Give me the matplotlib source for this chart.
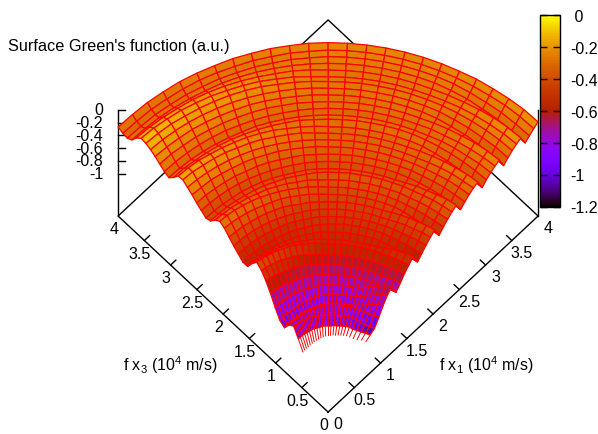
import numpy as np
import matplotlib
matplotlib.use('Agg')
import matplotlib.pyplot as plt
from matplotlib.cm import ScalarMappable
from matplotlib.colors import LinearSegmentedColormap, Normalize
from mpl_toolkits.mplot3d import proj3d

plt.rcParams['font.family'] = ['Liberation Sans', 'DejaVu Sans']
plt.rcParams['mathtext.fontset'] = 'custom'
plt.rcParams['mathtext.rm'] = 'Liberation Sans'
plt.rcParams['mathtext.default'] = 'regular'
plt.rcParams['axes.unicode_minus'] = False

# spokes from the x1 axis (0 deg) to the x3 axis (90 deg)
spoke_deg = [0, 3.75, 7.5, 11.25, 15, 18.75, 22.5, 26.25, 30, 33.75, 37.5, 41.25, 45,
             48.75, 52.5, 56.25, 60, 63.75, 67.5, 71.25, 75, 78.75, 82.5, 86.25, 90]
r_inner = [.72, .68, .64, .61, .58, .56, .54, .53, .52, .51, .51, .50, .50,
           .50, .50, .49, .49, .49, .49, .48, .48, .48, .48, .48, .48]
r_outer = 4.0

# green function: one row per arc (inner to outer), one column per spoke
green = [
 [-1.11,-1.09,-1.08,-1.06,-1.03,-1.01,-1.00,-1.00,-1.00,-1.00,-1.00,-1.00,-1.00,-1.01,-1.02,-1.02,-1.03,-1.04,-1.05,-1.05,-1.06,-1.07,-1.07,-1.08,-1.09],
 [-1.07,-1.05,-1.03,-1.01,-.99,-.96,-.95,-.95,-.95,-.95,-.95,-.95,-.95,-.95,-.95,-.95,-.95,-.95,-.95,-.95,-.95,-.95,-.95,-.95,-.95],
 [-1.03,-1.01,-.99,-.96,-.93,-.90,-.88,-.88,-.88,-.88,-.88,-.88,-.88,-.88,-.87,-.87,-.86,-.85,-.85,-.85,-.84,-.84,-.83,-.83,-.82],
 [-.92,-.91,-.89,-.87,-.85,-.83,-.82,-.82,-.82,-.82,-.82,-.82,-.82,-.82,-.83,-.83,-.84,-.84,-.85,-.85,-.85,-.86,-.86,-.87,-.87],
 [-.80,-.81,-.82,-.84,-.86,-.87,-.88,-.88,-.88,-.88,-.88,-.88,-.88,-.89,-.90,-.90,-.91,-.92,-.93,-.94,-.95,-.95,-.96,-.97,-.98],
 [-.70,-.72,-.74,-.77,-.79,-.81,-.83,-.83,-.83,-.83,-.83,-.83,-.83,-.84,-.85,-.86,-.86,-.87,-.88,-.89,-.90,-.91,-.91,-.92,-.93],
 [-.62,-.64,-.67,-.70,-.73,-.76,-.78,-.78,-.78,-.78,-.78,-.78,-.78,-.78,-.78,-.79,-.79,-.79,-.79,-.79,-.79,-.80,-.80,-.80,-.80],
 [-.78,-.77,-.76,-.75,-.74,-.73,-.72,-.72,-.72,-.72,-.72,-.72,-.72,-.71,-.71,-.70,-.70,-.69,-.69,-.68,-.67,-.67,-.66,-.66,-.65],
 [-.70,-.69,-.69,-.68,-.67,-.66,-.66,-.66,-.66,-.66,-.66,-.66,-.66,-.65,-.64,-.63,-.61,-.60,-.59,-.58,-.57,-.56,-.54,-.53,-.52],
 [-.61,-.61,-.61,-.61,-.60,-.60,-.60,-.60,-.60,-.60,-.60,-.60,-.60,-.59,-.57,-.56,-.54,-.53,-.51,-.50,-.48,-.47,-.45,-.44,-.42],
 [-.54,-.54,-.53,-.53,-.53,-.52,-.52,-.52,-.52,-.52,-.52,-.52,-.52,-.51,-.49,-.48,-.47,-.45,-.44,-.43,-.41,-.40,-.39,-.37,-.36],
 [-.47,-.48,-.49,-.51,-.53,-.54,-.55,-.55,-.55,-.55,-.55,-.55,-.55,-.54,-.53,-.53,-.52,-.51,-.50,-.49,-.48,-.48,-.47,-.46,-.45],
 [-.62,-.61,-.59,-.57,-.55,-.53,-.52,-.52,-.52,-.52,-.52,-.52,-.52,-.52,-.53,-.53,-.53,-.54,-.54,-.54,-.55,-.55,-.55,-.56,-.56],
 [-.55,-.54,-.53,-.52,-.51,-.50,-.49,-.49,-.49,-.49,-.49,-.49,-.49,-.50,-.50,-.51,-.51,-.52,-.53,-.53,-.54,-.54,-.55,-.55,-.56],
 [-.48,-.48,-.48,-.48,-.47,-.47,-.47,-.47,-.47,-.47,-.47,-.47,-.47,-.47,-.48,-.48,-.48,-.48,-.49,-.49,-.49,-.49,-.49,-.50,-.50],
 [-.42,-.42,-.43,-.43,-.44,-.45,-.45,-.45,-.45,-.45,-.45,-.45,-.45,-.45,-.45,-.45,-.45,-.45,-.45,-.44,-.44,-.44,-.44,-.44,-.44],
 [-.37,-.38,-.39,-.40,-.41,-.42,-.43,-.43,-.43,-.43,-.43,-.43,-.43,-.43,-.42,-.42,-.41,-.40,-.40,-.39,-.39,-.39,-.38,-.38,-.37],
 [-.52,-.50,-.49,-.47,-.44,-.42,-.41,-.41,-.41,-.41,-.41,-.41,-.41,-.40,-.39,-.38,-.37,-.36,-.36,-.35,-.34,-.33,-.32,-.31,-.30],
 [-.45,-.44,-.43,-.42,-.41,-.40,-.39,-.39,-.39,-.39,-.39,-.39,-.39,-.38,-.37,-.36,-.35,-.34,-.33,-.31,-.30,-.29,-.28,-.27,-.26],
 [-.39,-.39,-.38,-.38,-.38,-.37,-.37,-.37,-.37,-.37,-.37,-.37,-.37,-.37,-.36,-.36,-.35,-.35,-.34,-.34,-.33,-.33,-.32,-.32,-.31],
 [-.34,-.34,-.34,-.35,-.35,-.35,-.35,-.35,-.35,-.35,-.35,-.35,-.35,-.35,-.36,-.36,-.36,-.37,-.37,-.37,-.38,-.38,-.38,-.39,-.39],
 [-.30,-.31,-.33,-.35,-.36,-.38,-.39,-.39,-.39,-.39,-.39,-.39,-.39,-.39,-.39,-.40,-.40,-.40,-.40,-.40,-.40,-.41,-.41,-.41,-.41],
 [-.43,-.42,-.41,-.40,-.39,-.38,-.37,-.37,-.37,-.37,-.37,-.37,-.37,-.37,-.37,-.37,-.37,-.37,-.37,-.36,-.36,-.36,-.36,-.36,-.36],
 [-.37,-.37,-.36,-.36,-.36,-.35,-.35,-.35,-.35,-.35,-.35,-.35,-.35,-.35,-.34,-.34,-.34,-.33,-.33,-.33,-.32,-.32,-.32,-.31,-.31],
 [-.32,-.32,-.32,-.33,-.33,-.33,-.33,-.33,-.33,-.33,-.33,-.33,-.33,-.32,-.32,-.31,-.30,-.30,-.29,-.28,-.28,-.27,-.26,-.26,-.25],
 [-.28,-.29,-.29,-.30,-.31,-.32,-.32,-.32,-.32,-.32,-.32,-.32,-.32,-.31,-.30,-.29,-.28,-.27,-.26,-.25,-.24,-.23,-.22,-.21,-.20],
 [-.25,-.26,-.27,-.28,-.29,-.30,-.31,-.31,-.31,-.31,-.31,-.31,-.31,-.30,-.28,-.27,-.26,-.24,-.23,-.22,-.20,-.19,-.18,-.16,-.15],
 [-.40,-.39,-.37,-.35,-.33,-.31,-.30,-.30,-.30,-.30,-.30,-.30,-.30,-.29,-.28,-.27,-.25,-.24,-.23,-.22,-.21,-.20,-.18,-.17,-.16],
 [-.34,-.33,-.32,-.31,-.30,-.29,-.28,-.28,-.28,-.28,-.28,-.28,-.28,-.28,-.27,-.27,-.27,-.27,-.27,-.26,-.26,-.26,-.26,-.25,-.25],
 [-.29,-.29,-.30,-.30,-.30,-.31,-.31,-.31,-.31,-.31,-.31,-.31,-.31,-.31,-.31,-.31,-.31,-.31,-.32,-.32,-.32,-.32,-.32,-.32,-.32],
 [-.25,-.26,-.27,-.28,-.29,-.29,-.30,-.30,-.30,-.30,-.30,-.30,-.30,-.30,-.30,-.30,-.30,-.30,-.30,-.29,-.29,-.29,-.29,-.29,-.29],
 [-.22,-.23,-.24,-.26,-.27,-.28,-.29,-.29,-.29,-.29,-.29,-.29,-.29,-.29,-.28,-.28,-.27,-.27,-.27,-.26,-.26,-.25,-.25,-.24,-.24],
 [-.37,-.36,-.34,-.32,-.31,-.29,-.28,-.28,-.28,-.28,-.28,-.28,-.28,-.27,-.27,-.26,-.25,-.24,-.24,-.23,-.22,-.21,-.21,-.20,-.19],
 [-.31,-.30,-.30,-.29,-.28,-.27,-.27,-.27,-.27,-.27,-.27,-.27,-.27,-.26,-.25,-.24,-.23,-.22,-.21,-.20,-.19,-.18,-.17,-.16,-.15],
 [-.26,-.26,-.26,-.26,-.26,-.26,-.26,-.26,-.26,-.26,-.26,-.26,-.26,-.25,-.24,-.23,-.21,-.20,-.19,-.18,-.17,-.16,-.14,-.13,-.12],
 [-.22,-.23,-.24,-.25,-.26,-.27,-.28,-.28,-.28,-.28,-.28,-.28,-.28,-.27,-.25,-.24,-.22,-.21,-.20,-.18,-.17,-.15,-.14,-.12,-.11],
 [-.19,-.20,-.21,-.23,-.25,-.26,-.27,-.27,-.27,-.27,-.27,-.27,-.27,-.26,-.25,-.25,-.24,-.23,-.22,-.21,-.20,-.20,-.19,-.18,-.17],
 [-.33,-.32,-.31,-.30,-.28,-.27,-.26,-.26,-.26,-.26,-.26,-.26,-.26,-.26,-.26,-.26,-.26,-.26,-.26,-.27,-.27,-.27,-.27,-.27,-.27],
 [-.28,-.28,-.27,-.27,-.26,-.25,-.25,-.25,-.25,-.25,-.25,-.25,-.25,-.26,-.26,-.27,-.27,-.28,-.28,-.29,-.29,-.30,-.30,-.31,-.31],
 [-.23,-.23,-.23,-.24,-.24,-.24,-.24,-.24,-.24,-.24,-.24,-.24,-.24,-.25,-.25,-.26,-.26,-.27,-.27,-.27,-.28,-.29,-.29,-.30,-.30],
 [-.19,-.19,-.20,-.21,-.21,-.22,-.22,-.22,-.22,-.22,-.22,-.22,-.22,-.22,-.23,-.23,-.24,-.24,-.25,-.25,-.25,-.26,-.26,-.27,-.27],
]

xy_ticks = [0, 0.5, 1, 1.5, 2, 2.5, 3, 3.5, 4]
xy_labels = ['0', '0.5', '1', '1.5', '2', '2.5', '3', '3.5', '4']
z_ticks = [0, -0.2, -0.4, -0.6, -0.8, -1]
z_labels = ['0', '-0.2', '-0.4', '-0.6', '-0.8', '-1']
cb_ticks = [0, -0.2, -0.4, -0.6, -0.8, -1, -1.2]
cb_labels = [' 0', '-0.2', '-0.4', '-0.6', '-0.8', '-1', '-1.2']

z_base = -1.66

# gnuplot default pm3d palette (rgbformulae 7,5,15)
s = np.linspace(0, 1, 256)
pm3d = LinearSegmentedColormap.from_list(
    'pm3d', np.column_stack([np.sqrt(s), s**3, np.clip(np.sin(2*np.pi*s), 0, 1)]))
norm = Normalize(-1.2, 0)

W, H = 598, 435
fig = plt.figure(figsize=(W/100, H/100), dpi=100)
S = 600
cx, cy = 320, 172
ax = fig.add_axes([(cx-S/2)/W, (H-cy-S/2)/H, S/W, S/H], projection='3d', computed_zorder=False)
ax.set_proj_type('ortho')
ax.view_init(elev=69, azim=-135)
ax.set_axis_off()
ax.patch.set_alpha(0)
ax.set_xlim(0, 4, view_margin=0)
ax.set_ylim(0, 4, view_margin=0)
ax.set_zlim(z_base, 0, view_margin=0)
ax.set_xticks([])
ax.set_yticks([])
ax.set_zticks([])

# scale the box so the base diamond is 420 px wide
aspect = (297, 297, 296.5)
ax.set_box_aspect(aspect)
ax.apply_aspect()
p = [proj3d.proj_transform(a, b, z_base, ax.get_proj())[:2] for a, b in [(4, 0), (0, 4)]]
p = ax.transData.transform(p)
ax.set_box_aspect(aspect, zoom=420/abs(p[0][0]-p[1][0]))

Z = np.array(green)
th = np.radians(spoke_deg)
t = np.arange(Z.shape[0])/(Z.shape[0]-1)
R = np.outer(1-t, r_inner) + t[:, None]*r_outer
X = R*np.cos(th)
Y = R*np.sin(th)

# border, behind the surface
ax.plot([0, 4, 4, 0, 0], [0, 0, 4, 4, 0], [z_base]*5, color='k', lw=1, zorder=1)
ax.plot([0, 0], [4, 4], [z_base, 0], color='k', lw=1, zorder=1)
ax.plot([4, 4], [0, 0], [z_base, 0], color='k', lw=1, zorder=1)

for v, lab in zip(xy_ticks, xy_labels):
    if 0 < v < 4:
        ax.plot([v, v], [0, 0.1], [z_base]*2, color='k', lw=1, zorder=1)
        ax.plot([0, 0.1], [v, v], [z_base]*2, color='k', lw=1, zorder=1)
    ax.text(v-0.025, -0.215, z_base, lab, ha='center', va='center', fontsize=11.5, zorder=3)
    ax.text(-0.17, v-0.085, z_base, lab, ha='center', va='center', fontsize=11.5, zorder=3)
for v, lab in zip(z_ticks, z_labels):
    ax.plot([0, 0.07], [4, 3.93], [v, v], color='k', lw=1, zorder=1)
    ax.text(-0.143, 4.143, v, lab, ha='right', va='center', fontsize=11.5, zorder=3)

# the innermost arc is not filled, only its spokes show
for j in range(Z.shape[1]):
    ax.plot(X[:2, j], Y[:2, j], Z[:2, j], color='red', lw=0.7, zorder=1.5)

ax.plot_surface(X[1:], Y[1:], Z[1:], rstride=1, cstride=1, cmap=pm3d, norm=norm,
                edgecolor='red', linewidth=0.9, shade=False, zorder=2)

fig.text(8/W, 1-46/H, "Surface Green's function (a.u.)", fontsize=11.7, va='center', ha='left')
fig.text(170/W, 1-365/H, 'f x$_{3}$ (10$^{4}$ m/s)', fontsize=11.5, ha='center', va='center')
fig.text(486/W, 1-365/H, 'f x$_{1}$ (10$^{4}$ m/s)', fontsize=11.5, ha='center', va='center')

cax = fig.add_axes([539.5/W, 1-207.5/H, 20/W, 192/H])
cb = fig.colorbar(ScalarMappable(norm=norm, cmap=pm3d), cax=cax)
cb.set_ticks(cb_ticks)
cb.set_ticklabels(cb_labels)
cb.outline.set_linewidth(1)
cax.yaxis.set_ticks_position('both')
cax.tick_params(direction='in', length=5, width=1, labelleft=False, labelright=True,
                labelsize=11.5, pad=7.5)

fig.savefig('out.png', dpi=100)
